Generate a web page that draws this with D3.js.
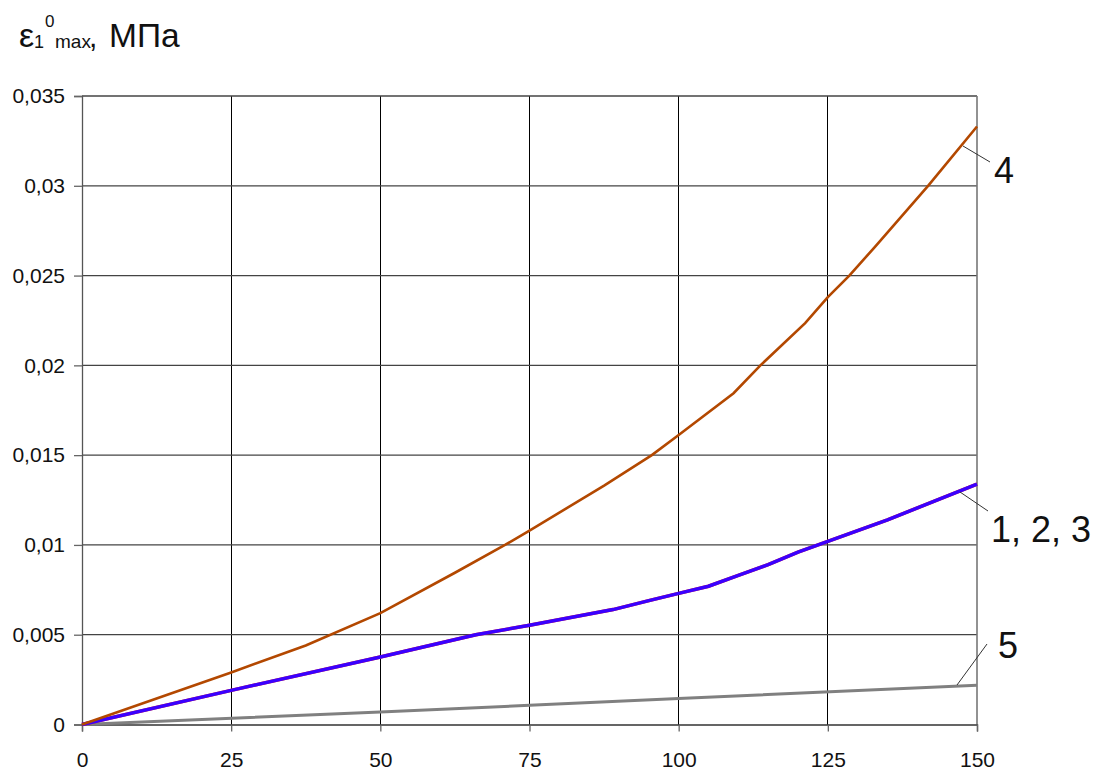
<!DOCTYPE html>
<html><head><meta charset="utf-8">
<script src="https://cdn.jsdelivr.net/npm/d3@7"></script>
<style>body{margin:0;background:#fff}svg{display:block}text{font-family:Arial,"Liberation Sans",sans-serif}</style>
</head><body>
<svg id="c" width="1096" height="771"></svg>
<script>
const xTicks = [0, 25, 50, 75, 100, 125, 150];
const yTicks = [0, 0.005, 0.01, 0.015, 0.02, 0.025, 0.03, 0.035];
const yTickLabels = ["0", "0,005", "0,01", "0,015", "0,02", "0,025", "0,03", "0,035"];
const series4X = [0, 12.5, 25, 37.5, 50, 62.5, 70.9, 75, 87.5, 95.5, 100, 109.2, 113.7, 121.2, 125, 128.6, 132.9, 141.8, 150];
const series4Y = [0, 0.00145, 0.0029, 0.0044, 0.0062, 0.00845, 0.01, 0.0108, 0.0133, 0.015, 0.01612, 0.01845, 0.02, 0.02235, 0.0238, 0.025, 0.0266, 0.03, 0.0333];
const series123X = [0, 25, 50, 57, 66, 75, 89, 95, 100, 105, 110, 115, 120, 125, 135, 150];
const series123Y = [0, 0.0019, 0.00376, 0.0043, 0.0050, 0.00553, 0.0064, 0.0069, 0.0073, 0.0077, 0.0083, 0.0089, 0.0096, 0.0102, 0.0114, 0.01338];
const series5X = [0, 50, 75, 100, 150];
const series5Y = [0, 0.0007, 0.00107, 0.00145, 0.00218];

const svg = d3.select("#c");
const x = d3.scaleLinear().domain([0, 150]).range([82, 977]);
const y = d3.scaleLinear().domain([0, 0.035]).range([724.5, 96]);

// grid
svg.append("g").selectAll("line").data(xTicks.slice(1, -1)).join("line")
  .attr("x1", d => x(d)).attr("x2", d => x(d)).attr("y1", y(0.035)).attr("y2", y(0))
  .attr("stroke", "#000").attr("stroke-width", 1).attr("shape-rendering", "crispEdges");
svg.append("g").selectAll("line").data(yTicks.slice(1)).join("line")
  .attr("x1", x(0)).attr("x2", x(150)).attr("y1", d => y(d)).attr("y2", d => y(d))
  .attr("stroke", "#444").attr("stroke-width", 1.3);
// right frame
svg.append("line").attr("x1", x(150)).attr("x2", x(150)).attr("y1", y(0.035)).attr("y2", y(0))
  .attr("stroke", "#777").attr("stroke-width", 1.6);

// axes
const yAxis = d3.axisLeft(y).tickValues(yTicks).tickFormat((d, i) => yTickLabels[i]).tickSize(8).tickPadding(9);
const gy = svg.append("g").attr("transform", `translate(${x(0)},0)`).call(yAxis);
gy.select(".domain").attr("stroke", "#555").attr("stroke-width", 1.3);
gy.selectAll(".tick line").attr("stroke", "#666").attr("stroke-width", 1.3);
gy.selectAll("text").attr("font-size", 21).attr("fill", "#111");

const xAxis = d3.axisBottom(x).tickValues(xTicks).tickSize(7).tickPadding(21);
const gx = svg.append("g").attr("transform", `translate(0,${y(0)})`).call(xAxis);
gx.select(".domain").attr("stroke", "#333").attr("stroke-width", 1.3);
gx.selectAll(".tick line").attr("stroke", "#666").attr("stroke-width", 1.3);
gx.selectAll("text").attr("font-size", 21).attr("fill", "#111");

const line = d3.line().x(d => x(d[0])).y(d => y(d[1]));
const zip = (a, b) => a.map((v, i) => [v, b[i]]);

svg.append("path").datum(zip(series5X, series5Y)).attr("d", line)
  .attr("fill", "none").attr("stroke", "#808080").attr("stroke-width", 3);
svg.append("path").datum(zip(series123X, series123Y)).attr("d", line)
  .attr("fill", "none").attr("stroke", "#ff2a00").attr("stroke-width", 3.5);
svg.append("path").datum(zip(series123X, series123Y)).attr("d", line)
  .attr("fill", "none").attr("stroke", "#3a00ff").attr("stroke-width", 3.5);
svg.append("path").datum(zip(series4X, series4Y)).attr("d", line)
  .attr("fill", "none").attr("stroke", "#b34800").attr("stroke-width", 2.6);

// leaders and labels
const leaders = [
  {x1: 963, y1: 146, x2: 990, y2: 162},
  {x1: 960, y1: 492, x2: 988, y2: 511},
  {x1: 957, y1: 685, x2: 987, y2: 644}
];
svg.append("g").selectAll("line").data(leaders).join("line")
  .attr("x1", d => d.x1).attr("y1", d => d.y1).attr("x2", d => d.x2).attr("y2", d => d.y2)
  .attr("stroke", "#333").attr("stroke-width", 1);
const labels = [{t: "4", x: 994, y: 183}, {t: "1, 2, 3", x: 991, y: 542}, {t: "5", x: 998, y: 658}];
svg.append("g").selectAll("text").data(labels).join("text")
  .attr("x", d => d.x).attr("y", d => d.y).attr("font-size", 36).attr("fill", "#111").text(d => d.t);

// title
const tparts = [
  {t: "ε", x: 19, y: 47, s: 34},
  {t: "1", x: 34, y: 48, s: 18},
  {t: "0", x: 45, y: 27, s: 17},
  {t: "max", x: 55, y: 48, s: 19},
  {t: ",", x: 89, y: 47, s: 30},
  {t: "МПа", x: 109, y: 47, s: 33.5}
];
svg.append("g").selectAll("text").data(tparts).join("text")
  .attr("x", d => d.x).attr("y", d => d.y).attr("font-size", d => d.s).attr("fill", "#111").text(d => d.t);
</script>
</body></html>
